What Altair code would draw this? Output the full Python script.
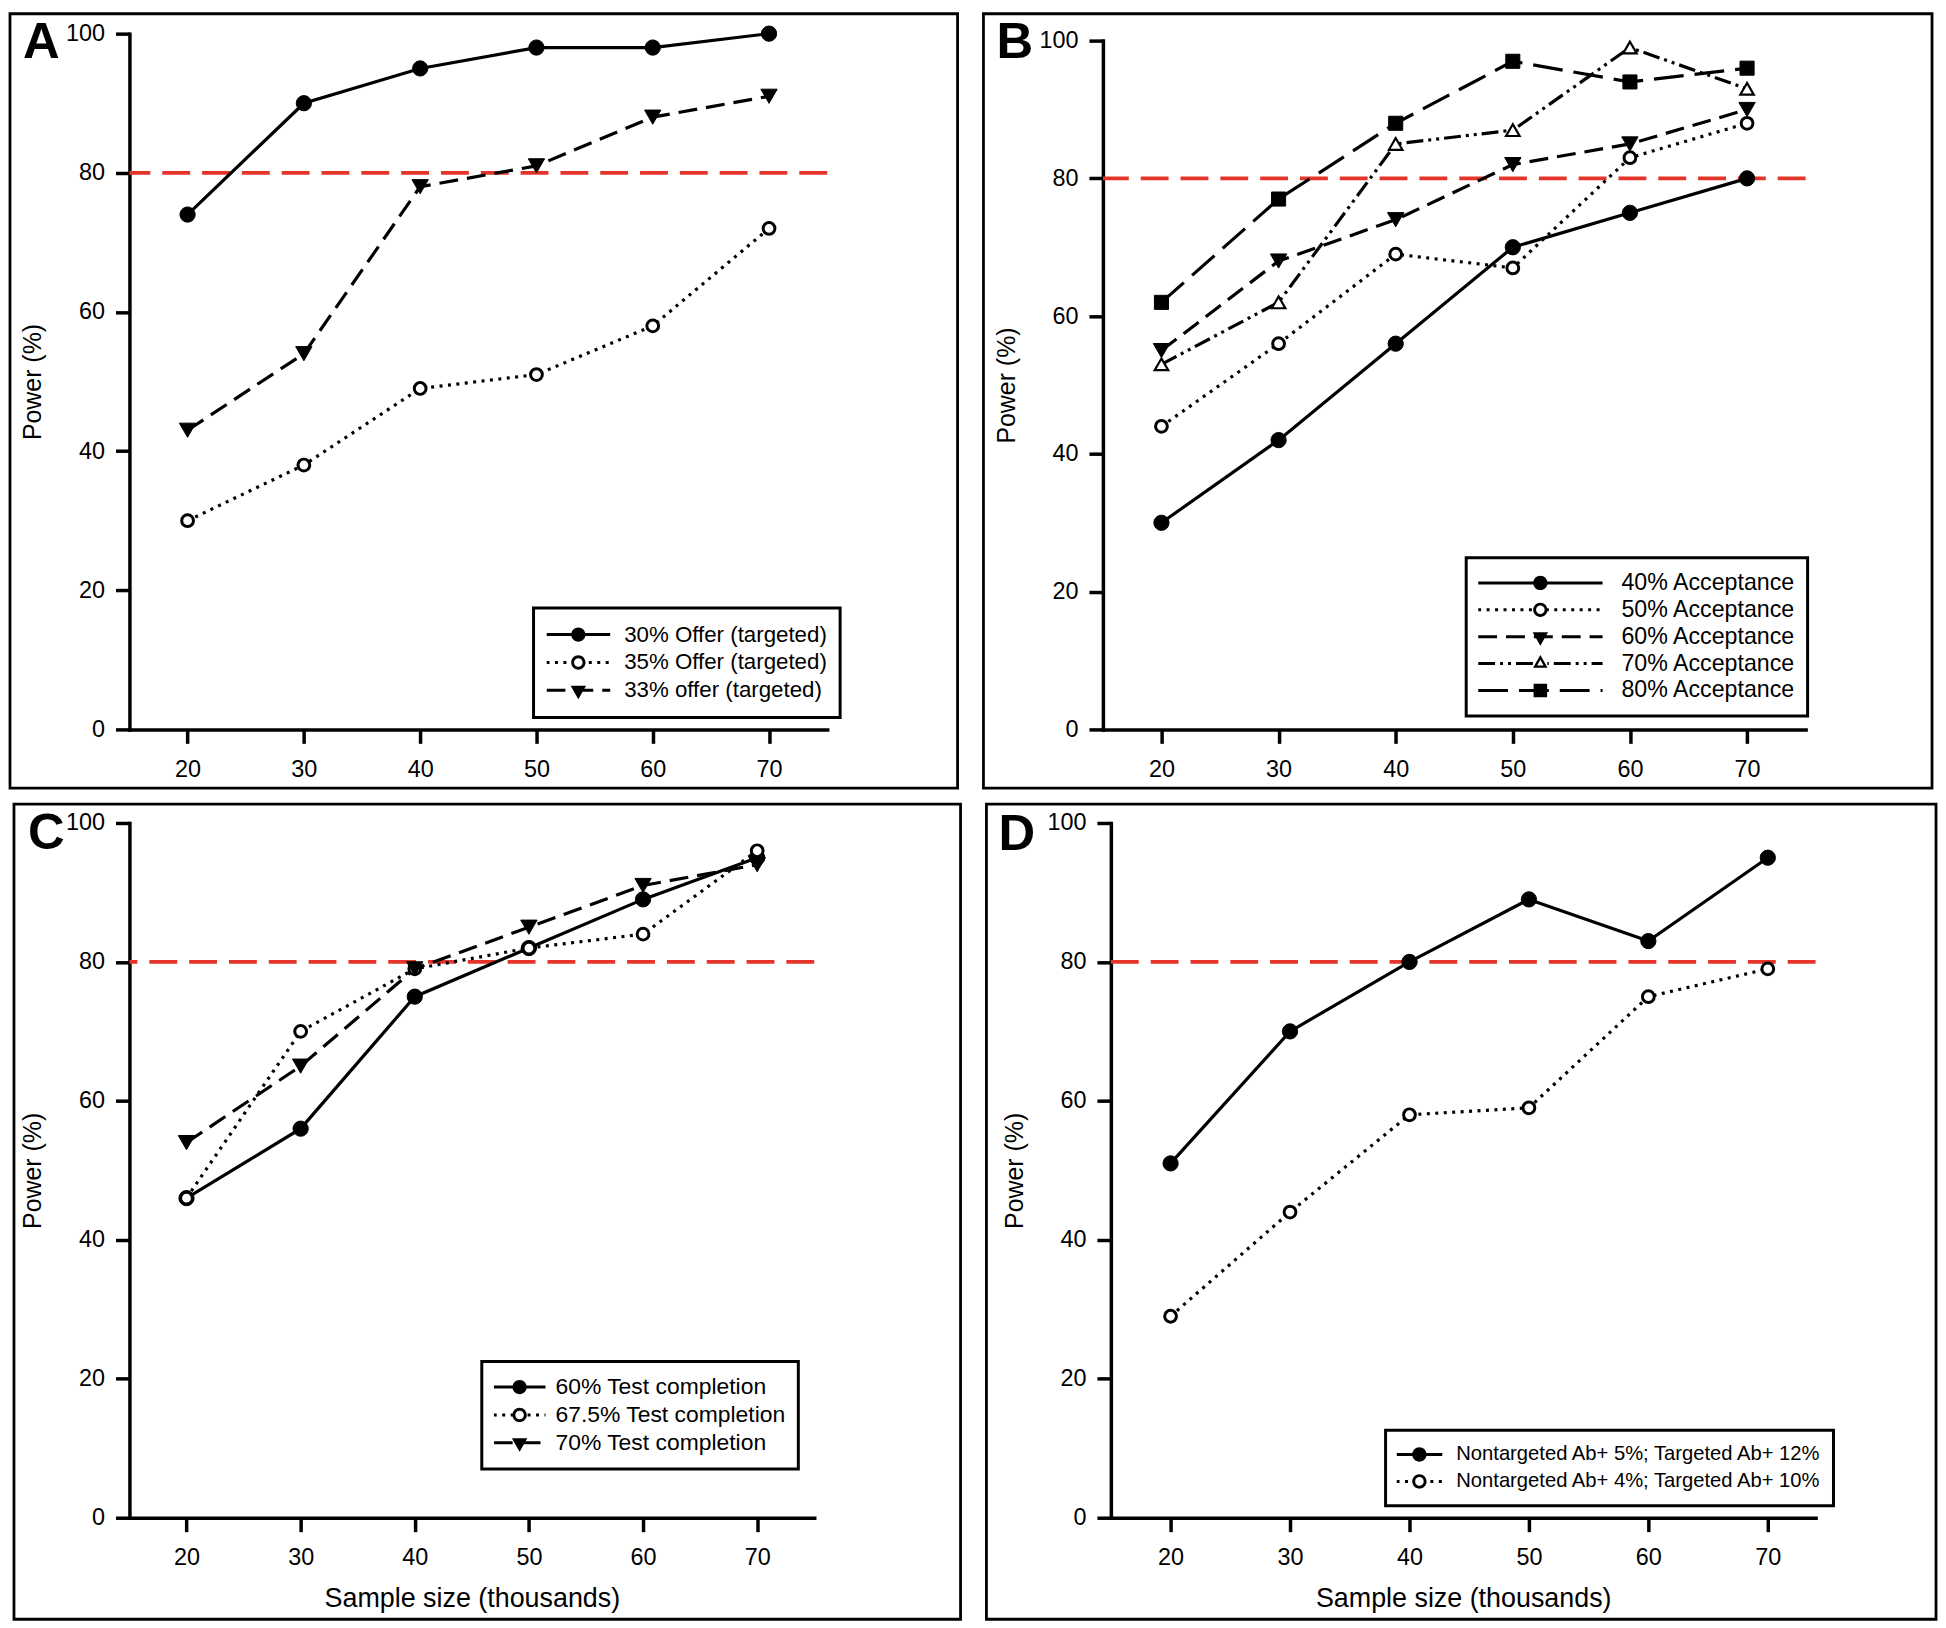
import math
import altair as alt
import pandas as pd

# ---------------- data ----------------
X = [20, 30, 40, 50, 60, 70]

A_names = ["30% Offer (targeted)", "35% Offer (targeted)", "33% offer (targeted)"]
A_vals = [
    [74, 90, 95, 98, 98, 100],
    [30, 38, 49, 51, 58, 72],
    [43, 54, 78, 81, 88, 91],
]

B_names = ["40% Acceptance", "50% Acceptance", "60% Acceptance",
           "70% Acceptance", "80% Acceptance"]
B_vals = [
    [30, 42, 56, 70, 75, 80],
    [44, 56, 69, 67, 83, 88],
    [55, 68, 74, 82, 85, 90],
    [53, 62, 85, 87, 99, 93],
    [62, 77, 88, 97, 94, 96],
]

C_names = ["60% Test completion", "67.5% Test completion", "70% Test completion"]
C_vals = [
    [46, 56, 75, 82, 89, 95],
    [46, 70, 79, 82, 84, 96],
    [54, 65, 79, 85, 91, 94],
]

D_names = ["Nontargeted Ab+ 5%; Targeted Ab+ 12%",
           "Nontargeted Ab+ 4%; Targeted Ab+ 10%"]
D_vals = [
    [51, 70, 80, 89, 83, 95],
    [29, 44, 58, 59, 75, 79],
]

TARGET = [80]

# ---------------- styles ----------------
FONT = "Liberation Sans"
RED = "#e5352a"
LW = 3.2

SOLID = None
DOT = [3, 5.5]
DASH = [19, 9]
DASHDOTDOT = [17, 5, 3, 5, 3, 5]
LONGDASH = [30, 11]

MARK = {
    "fcircle": dict(shape="circle", size=235, fill="black", strokeWidth=1),
    "ocircle": dict(shape="circle", size=140, fill="white", strokeWidth=3.0),
    "ftri": dict(shape="triangle-down", size=270, fill="black", strokeWidth=1),
    "otri": dict(shape="triangle-up", size=185, fill="white", strokeWidth=2.2),
    "fsquare": dict(shape="square", size=200, fill="black", strokeWidth=1),
}


def legend_path(L, dash, marker, t=3.0):
    """Custom symbol path (unit box -1..1) made of filled dash rectangles + marker."""
    s = L / 2.0

    def u(v):
        return f"{v / s:.4f}"

    segs = []
    if dash is None:
        segs = [(-s, s)]
    else:
        pos, i = -s, 0
        while pos < s:
            end = min(pos + dash[i % len(dash)], s)
            if i % 2 == 0:
                segs.append((pos, end))
            pos, i = end, i + 1
    open_m = marker in ("ocircle", "otri")
    rc = 7.0
    clipped = []
    for a, b in segs:
        if open_m:
            if b <= -rc or a >= rc:
                clipped.append((a, b))
            else:
                if a < -rc:
                    clipped.append((a, -rc))
                if b > rc:
                    clipped.append((rc, b))
        else:
            clipped.append((a, b))
    p = []
    for a, b in clipped:
        if b - a < 0.5:
            continue
        p.append(f"M{u(a)},{u(-t / 2)}H{u(b)}V{u(t / 2)}H{u(a)}Z")

    def circle(r, cw=True):
        sw = 1 if cw else 0
        return (f"M{u(r)},0A{u(r)},{u(r)} 0 1,{sw} {u(-r)},0"
                f"A{u(r)},{u(r)} 0 1,{sw} {u(r)},0Z")

    if marker == "fcircle":
        p.append(circle(7.2))
    elif marker == "ocircle":
        p.append(circle(7.2, True))
        p.append(circle(4.3, False))
    elif marker == "ftri":
        w, h = 15.5, 13.5
        p.append(f"M{u(-w / 2)},{u(-h / 3)}L{u(w / 2)},{u(-h / 3)}L0,{u(2 * h / 3)}Z")
    elif marker == "otri":
        w, h = 14.5, 13.0
        p.append(f"M0,{u(-2 * h / 3)}L{u(w / 2)},{u(h / 3)}L{u(-w / 2)},{u(h / 3)}Z")
        k = 0.45
        p.append(f"M0,{u(-2 * h / 3 * k)}L{u(-w / 2 * k)},{u(h / 3 * k)}L{u(w / 2 * k)},{u(h / 3 * k)}Z")
    elif marker == "fsquare":
        a = 6.8
        p.append(f"M{u(-a)},{u(-a)}H{u(a)}V{u(a)}H{u(-a)}Z")
    return "".join(p)


def panel(letter, names, vals, styles, g, xtitle):
    rows = []
    for n, v in zip(names, vals):
        for xv, yv in zip(X, v):
            rows.append({"series": n, "x": xv, "y": yv})
    df = pd.DataFrame(rows)
    w, h = g["w"], g["h"]
    yscale = alt.Scale(domain=[0, 100], nice=False, range=[h, g["ytop"]])

    xaxis_kw = dict(values=X, labelPadding=14, labelFlush=False)
    if xtitle:
        xaxis_kw.update(title=xtitle, titlePadding=17)
    else:
        xaxis_kw.update(title=None)
    xenc = alt.X("x:Q", scale=alt.Scale(domain=[15, g["xmax"]], nice=False, zero=False),
                 axis=alt.Axis(**xaxis_kw))
    yenc = alt.Y("y:Q", scale=yscale,
                 axis=alt.Axis(values=[0, 20, 40, 60, 80, 100], title="Power (%)",
                               labelPadding=11, titlePadding=20))

    one = pd.DataFrame({"k": [0]})
    frame = alt.Chart(one).mark_rect(fillOpacity=0, stroke="black", strokeWidth=2.8).encode(
        x=alt.value(g["fx0"]), x2=alt.value(w + g["fx1"]),
        y=alt.value(g["fy0"]), y2=alt.value(h + g["fy1"]))
    label = alt.Chart(one).mark_text(
        text=letter, font=FONT, fontSize=51, fontWeight="bold", align="left",
        baseline="alphabetic", color="black").encode(
        x=alt.value(g["lx"]), y=alt.value(g["ly"]))

    ref = alt.Chart(pd.DataFrame({"t": TARGET})).mark_rule(
        color=RED, strokeWidth=3.8, strokeDash=[28, 12]).encode(y=alt.Y("t:Q", scale=yscale))

    layers = [frame, label, ref]
    base = alt.Chart(df)
    for n, (dash, mk) in zip(names, styles):
        kw = dict(color="black", strokeWidth=LW)
        if dash is not None:
            kw["strokeDash"] = dash
        layers.append(base.transform_filter(alt.datum.series == n).mark_line(**kw).encode(
            x=xenc, y=yenc))
    for n, (dash, mk) in zip(names, styles):
        m = MARK[mk]
        layers.append(base.transform_filter(alt.datum.series == n).mark_point(
            shape=m["shape"], size=m["size"], filled=True, fill=m["fill"],
            stroke="black", strokeWidth=m["strokeWidth"], opacity=1).encode(x=xenc, y=yenc))

    L = g["L"]
    paths = [legend_path(L, d, mk) for d, mk in styles]
    nrow = len(names)
    leg_h = 2 * g["pad"] + nrow * g["rowh"]
    legend = alt.Legend(
        title=None, orient="none", legendX=g["legx"], legendY=h - g["legb"] - leg_h,
        padding=g["pad"], labelFontSize=g["lfs"], labelOffset=g["loff"],
        symbolSize=L * L, clipHeight=g["rowh"], rowPadding=0,
        fillColor="white", strokeColor="black", labelLimit=800,
        symbolFillColor="black", symbolStrokeWidth=0, symbolOpacity=1)
    leg_layer = base.transform_filter("false").mark_point(
        filled=True, color="black", opacity=1, size=L * L, strokeWidth=0).encode(
        shape=alt.Shape("series:N", scale=alt.Scale(domain=names, range=paths),
                        legend=legend))
    layers.append(leg_layer)
    return alt.layer(*layers).properties(width=w, height=h)


H1 = 699
H2 = 698
A = panel("A", A_names, A_vals,
          [(SOLID, "fcircle"), (DOT, "ocircle"), (DASH, "ftri")],
          dict(w=701, h=H1, ytop=0, xmax=75, fx0=-120, fx1=131, fy0=-20, fy1=59,
               lx=-107, ly=24,
               L=64, pad=13, rowh=27.3, lfs=22.4, loff=14, legx=406, legb=14), None)
B = panel("B", B_names, B_vals,
          [(SOLID, "fcircle"), (DOT, "ocircle"), (DASH, "ftri"),
           (DASHDOTDOT, "otri"), (LONGDASH, "fsquare")],
          dict(w=706, h=H1, ytop=7, xmax=75, fx0=-120, fx1=127, fy0=-20, fy1=59,
               lx=-107, ly=24,
               L=125, pad=12, rowh=26.7, lfs=23.3, loff=19, legx=365, legb=15), None)
C = panel("C", C_names, C_vals,
          [(SOLID, "fcircle"), (DOT, "ocircle"), (DASH, "ftri")],
          dict(w=688, h=H2, ytop=0, xmax=75, fx0=-116, fx1=147, fy0=-19, fy1=102,
               lx=-102, ly=26,
               L=52, pad=12, rowh=27.3, lfs=23, loff=10, legx=354, legb=51),
          "Sample size (thousands)")
D = panel("D", D_names, D_vals,
          [(SOLID, "fcircle"), (DOT, "ocircle")],
          dict(w=708, h=H2, ytop=0, xmax=74, fx0=-125, fx1=121, fy0=-19, fy1=102,
               lx=-113, ly=27,
               L=46, pad=11, rowh=27, lfs=20.3, loff=14, legx=276, legb=12),
          "Sample size (thousands)")

row1 = alt.hconcat(A, B, spacing=22).resolve_scale(shape="independent").resolve_legend(shape="independent")
row2 = alt.hconcat(C, D, spacing=22).resolve_scale(shape="independent").resolve_legend(shape="independent")

chart = (
    alt.vconcat(row1, row2, spacing=12)
    .resolve_scale(shape="independent")
    .resolve_legend(shape="independent")
    .properties(padding=0, background="white")
    .configure_view(stroke="transparent")
    .configure_axis(
        grid=False, domainColor="black", domainWidth=3.5, domainCap="square",
        tickColor="black", tickWidth=3.5, tickSize=14,
        labelFont=FONT, labelFontSize=23.5, labelColor="black", labelFlush=False,
        titleFont=FONT, titleFontSize=25, titleFontWeight="normal", titleColor="black")
    .configure_axisX(titleFontSize=27)
    .configure_legend(strokeWidth=3, cornerRadius=0, labelFont=FONT,
                      labelColor="black", labelBaseline="middle")
)

chart.save("out.html", embed_options={"renderer": "svg", "actions": False})
